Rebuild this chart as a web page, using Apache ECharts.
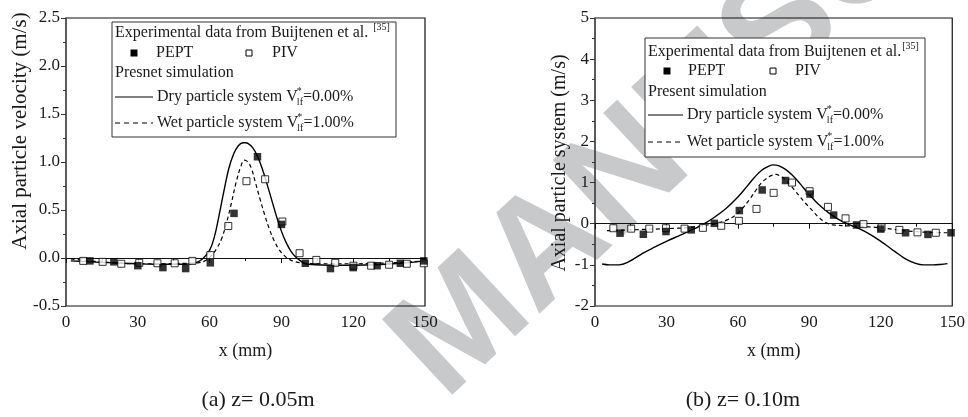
<!DOCTYPE html>
<html>
<head>
<meta charset="utf-8">
<script src="https://cdn.jsdelivr.net/npm/echarts@6/dist/echarts.min.js"></script>
<style>
  html, body { margin: 0; padding: 0; background: #fff; }
  #chart { width: 968px; height: 417px; }
</style>
</head>
<body>
<div id="chart"></div>
<script>
// ---- x axis (mm) ----
const xMin = 0, xMax = 150, xStep = 30;

// ---- (a) z = 0.05 m ----
const yRangeA = { min: -0.5, max: 2.5, step: 0.5 };
const peptA = [[10,-0.03],[20,-0.04],[30,-0.08],[40.5,-0.10],[50,-0.11],[60.3,-0.05],[70.2,0.465],[80,1.055],[90,0.35],[100,-0.055],[110.5,-0.11],[120,-0.10],[130,-0.08],[139.7,-0.055],[149.5,-0.03]];
const pivA = [[7.2,-0.03],[15.3,-0.04],[23.1,-0.06],[30.6,-0.05],[38.2,-0.055],[45.4,-0.055],[52.8,-0.03],[60.3,0.03],[67.8,0.333],[75.4,0.80],[83.2,0.82],[90.4,0.38],[97.6,0.05],[104.6,-0.02],[112.5,-0.05],[120.1,-0.08],[127.5,-0.08],[135,-0.07],[142.4,-0.06],[149.5,-0.055]];
const dryA = [[2,-0.03],[10,-0.04],[20,-0.05],[30,-0.06],[40,-0.065],[50,-0.065],[54,-0.05],[57,-0.01],[60,0.08],[62,0.22],[64,0.45],[66,0.70],[68,0.93],[70,1.08],[72,1.17],[74,1.20],[75,1.20],[76,1.195],[78,1.15],[80,1.06],[82,0.93],[84,0.77],[86,0.60],[88,0.43],[90,0.28],[92,0.16],[94,0.07],[96,0.01],[98,-0.03],[100,-0.06],[104,-0.07],[110,-0.075],[120,-0.075],[130,-0.07],[140,-0.055],[150,-0.03]];
const wetA = [[2,-0.01],[10,-0.03],[20,-0.05],[30,-0.06],[40,-0.06],[50,-0.055],[55,-0.05],[58,-0.03],[61,0.03],[63,0.10],[65,0.20],[67,0.36],[69,0.56],[71,0.78],[73,0.95],[74.5,1.02],[76,1.00],[77.5,0.93],[79,0.80],[81,0.62],[83,0.45],[85,0.30],[87,0.18],[89,0.09],[91,0.03],[93,-0.01],[96,-0.04],[100,-0.055],[110,-0.06],[120,-0.06],[130,-0.055],[140,-0.045],[150,-0.03]];

// ---- (b) z = 0.10 m ----
const yRangeB = { min: -2, max: 5, step: 1 };
const peptB = [[10.5,-0.23],[20.3,-0.256],[29.8,-0.19],[40.4,-0.15],[50.1,0.01],[60.6,0.32],[70.2,0.82],[80,1.05],[90.3,0.72],[100.2,0.21],[109.8,-0.03],[120,-0.13],[130.4,-0.22],[139.8,-0.26],[149.5,-0.22]];
const pivB = [[7.7,-0.11],[15.2,-0.12],[22.8,-0.12],[29.8,-0.11],[37.6,-0.12],[45.3,-0.10],[53,-0.05],[60.4,0.07],[67.8,0.36],[75,0.75],[82.7,1.00],[90.1,0.79],[97.8,0.41],[105.2,0.13],[112.7,-0.01],[120.3,-0.09],[127.8,-0.15],[135.4,-0.21],[143.1,-0.22]];
const dryB = [[3,-0.98],[6,-1.0],[10,-1.0],[14,-0.93],[20,-0.72],[25,-0.57],[30,-0.43],[35,-0.30],[40,-0.17],[45,-0.03],[50,0.15],[55,0.37],[60,0.65],[64,0.92],[67,1.13],[70,1.30],[73,1.40],[75,1.43],[77,1.41],[80,1.32],[83,1.17],[86,0.98],[89,0.77],[92,0.58],[95,0.41],[98,0.27],[101,0.15],[104,0.05],[107,-0.03],[110,-0.10],[114,-0.21],[118,-0.35],[122,-0.51],[126,-0.68],[130,-0.84],[134,-0.95],[138,-1.0],[142,-1.0],[145,-0.99],[148,-0.97]];
const wetB = [[5,-0.17],[10,-0.16],[20,-0.14],[30,-0.12],[40,-0.09],[46,-0.04],[51,0.01],[55,0.08],[59,0.21],[62,0.38],[65,0.60],[68,0.85],[70,1.00],[72,1.10],[74,1.17],[76,1.20],[78,1.15],[80,1.07],[82,0.94],[84,0.80],[86,0.66],[88,0.52],[90,0.40],[92,0.27],[94,0.15],[96,0.06],[98,0.0],[100,-0.03],[105,-0.05],[110,-0.06],[120,-0.10],[130,-0.17],[140,-0.21],[148,-0.22]];

// ---- texts ----
const yNameA = 'Axial particle velocity (m/s)';
const yNameB = 'Axial particle system (m/s)';
const xName = 'x (mm)';
const captionA = '(a) z= 0.05m';
const captionB = '(b) z= 0.10m';
const expTitle = 'Experimental data from Buijtenen et al.';
const refMark = '[35]';
const simTitleA = 'Presnet simulation';
const simTitleB = 'Present simulation';
const dryLabel = ['Dry particle system V', '=0.00%'];
const wetLabel = ['Wet particle system V', '=1.00%'];

const SERIF = "'Liberation Serif','Times New Roman',serif";
const INK = '#1a1a1a';

const measureCtx = document.createElement('canvas').getContext('2d');
function textWidth(str, size) {
  measureCtx.font = size + 'px ' + SERIF;
  return measureCtx.measureText(str).width;
}

function txt(x, y, s, size, extra) {
  return {
    type: 'text', x: x, y: y, z: 20,
    style: Object.assign({ text: s, font: size + 'px ' + SERIF, fill: INK, verticalAlign: 'middle' }, extra || {})
  };
}

// "V*lf = value" label assembled from pieces so the * and lf stack
function volumeLabel(x, y, parts) {
  const w = textWidth(parts[0], 16);
  const wl = textWidth('lf', 10);
  return [
    txt(x, y, parts[0], 16),
    txt(x + w - 1, y - 6, '*', 10),
    txt(x + w - 1, y + 5, 'lf', 10),
    txt(x + w + wl - 1, y, parts[1], 16)
  ];
}

function legendBlock(o) {
  const els = [];
  els.push({ type: 'rect', z: 15, shape: { x: o.x, y: o.y, width: o.w, height: o.h },
    style: { fill: '#fff', stroke: '#333', lineWidth: 1 } });
  const tx = o.x + 3;
  const head = expTitle + (o.gap ? ' ' : '');
  els.push(txt(tx, o.rows[0], head, 16));
  els.push(txt(tx + textWidth(head, 16) + 1, o.rows[0] - 6, refMark, 10));
  // symbol keys
  els.push({ type: 'rect', z: 20, shape: { x: o.m1 - 3.5, y: o.rows[1] - 3.5, width: 7, height: 7 },
    style: { fill: '#000' } });
  els.push(txt(o.t1, o.rows[1], 'PEPT', 16));
  els.push({ type: 'rect', z: 20, shape: { x: o.m2 - 3, y: o.rows[1] - 3, width: 6, height: 6 },
    style: { fill: '#fff', stroke: '#000', lineWidth: 1 } });
  els.push(txt(o.t2, o.rows[1], 'PIV', 16));
  els.push(txt(tx, o.rows[2], o.sim, 16));
  // line keys
  els.push({ type: 'line', z: 20, shape: { x1: tx, y1: o.rows[3], x2: o.lx2, y2: o.rows[3] },
    style: { stroke: '#000', lineWidth: 1.2 } });
  els.push({ type: 'line', z: 20, shape: { x1: tx, y1: o.rows[4], x2: o.lx2, y2: o.rows[4] },
    style: { stroke: '#000', lineWidth: 1.2, lineDash: [5, 4] } });
  return els.concat(volumeLabel(o.lx2 + 4, o.rows[3], dryLabel), volumeLabel(o.lx2 + 4, o.rows[4], wetLabel));
}

const chart = echarts.init(document.getElementById('chart'), null, { renderer: 'canvas' });

function xAxisCfg(gi) {
  return {
    gridIndex: gi, type: 'value', min: xMin, max: xMax, interval: xStep,
    name: xName, nameLocation: 'middle', nameGap: 36,
    nameTextStyle: { fontFamily: SERIF, fontSize: 18, color: INK },
    axisLine: { lineStyle: { color: '#111', width: 1.2 } },
    axisTick: { inside: false, length: 5, lineStyle: { color: '#111' } },
    minorTick: { show: true, splitNumber: 2, length: 3, lineStyle: { color: '#111' } },
    axisLabel: { fontFamily: SERIF, fontSize: 17, color: INK, margin: 8 },
    splitLine: { show: false }
  };
}
function yAxisCfg(gi, r, fmt) {
  return {
    gridIndex: gi, type: 'value', min: r.min, max: r.max, interval: r.step,
    axisLine: { onZero: false, lineStyle: { color: '#555', width: 1.5 } },
    axisTick: { inside: false, length: 5, lineStyle: { color: '#333' } },
    minorTick: { show: true, splitNumber: 2, length: 3, lineStyle: { color: '#333' } },
    axisLabel: { fontFamily: SERIF, fontSize: 17, color: INK, margin: 6, formatter: fmt },
    splitLine: { show: false }
  };
}

function curves(xi, dry, wet) {
  return [
    { type: 'line', xAxisIndex: xi, yAxisIndex: xi, data: dry, smooth: 0.4, showSymbol: false, symbol: 'none',
      lineStyle: { color: '#000', width: 1.4 }, z: 2, silent: true },
    { type: 'line', xAxisIndex: xi, yAxisIndex: xi, data: wet, smooth: 0.4, showSymbol: false, symbol: 'none',
      lineStyle: { color: '#000', width: 1.2, type: [4, 3] }, z: 2, silent: true }
  ];
}
function points(xi, pept, piv) {
  return [
    { type: 'scatter', xAxisIndex: xi, yAxisIndex: xi, data: piv, symbol: 'rect', symbolSize: 7,
      itemStyle: { color: '#fff', borderColor: '#000', borderWidth: 1 }, z: 4, silent: true },
    { type: 'scatter', xAxisIndex: xi, yAxisIndex: xi, data: pept, symbol: 'rect', symbolSize: 7.5,
      itemStyle: { color: '#000' }, z: 5, silent: true }
  ];
}

const graphics = [].concat(
  legendBlock({ x: 112, y: 22, w: 284, h: 115, rows: [33, 53, 73, 97, 123], gap: true,
    m1: 134, t1: 156, m2: 249, t2: 272, lx2: 153, sim: simTitleA }),
  legendBlock({ x: 645, y: 38, w: 280, h: 119, rows: [52, 71, 92, 115, 142], gap: false,
    m1: 667, t1: 688, m2: 773, t2: 795, lx2: 683, sim: simTitleB }),
  [
    // rotated y-axis titles
    { type: 'text', x: 20, y: 131, z: 20, rotation: Math.PI / 2,
      style: { text: yNameA, font: '21px ' + SERIF, fill: INK, align: 'center', verticalAlign: 'middle' } },
    { type: 'text', x: 560, y: 163, z: 20, rotation: Math.PI / 2,
      style: { text: yNameB, font: '20px ' + SERIF, fill: INK, align: 'center', verticalAlign: 'middle' } },
    // sub-figure captions
    { type: 'text', x: 258, y: 400, z: 20, style: { text: captionA, font: '22px ' + SERIF, fill: INK, align: 'center', verticalAlign: 'middle' } },
    { type: 'text', x: 743, y: 400, z: 20, style: { text: captionB, font: '22px ' + SERIF, fill: INK, align: 'center', verticalAlign: 'middle' } },
    // diagonal watermark
    { type: 'text', x: 468, y: 426, z: -10, rotation: 43 * Math.PI / 180, silent: true,
      style: { text: 'MANUSCRIPT', font: "bold 150px 'Liberation Sans', Arial, sans-serif", fill: '#c8c9cb',
        verticalAlign: 'bottom', align: 'left' } }
  ]
);

chart.setOption({
  animation: false,
  backgroundColor: '#fff',
  grid: [
    { left: 66, top: 18, width: 359, height: 288, show: true, borderColor: '#111', borderWidth: 1.2, backgroundColor: 'transparent' },
    { left: 595, top: 18, width: 358, height: 288, show: true, borderColor: '#111', borderWidth: 1.2, backgroundColor: 'transparent' }
  ],
  xAxis: [xAxisCfg(0), xAxisCfg(1)],
  yAxis: [yAxisCfg(0, yRangeA, v => v.toFixed(1)), yAxisCfg(1, yRangeB, v => String(v))],
  series: [].concat(curves(0, dryA, wetA), points(0, peptA, pivA), curves(1, dryB, wetB), points(1, peptB, pivB)),
  graphic: graphics
});
</script>
</body>
</html>
